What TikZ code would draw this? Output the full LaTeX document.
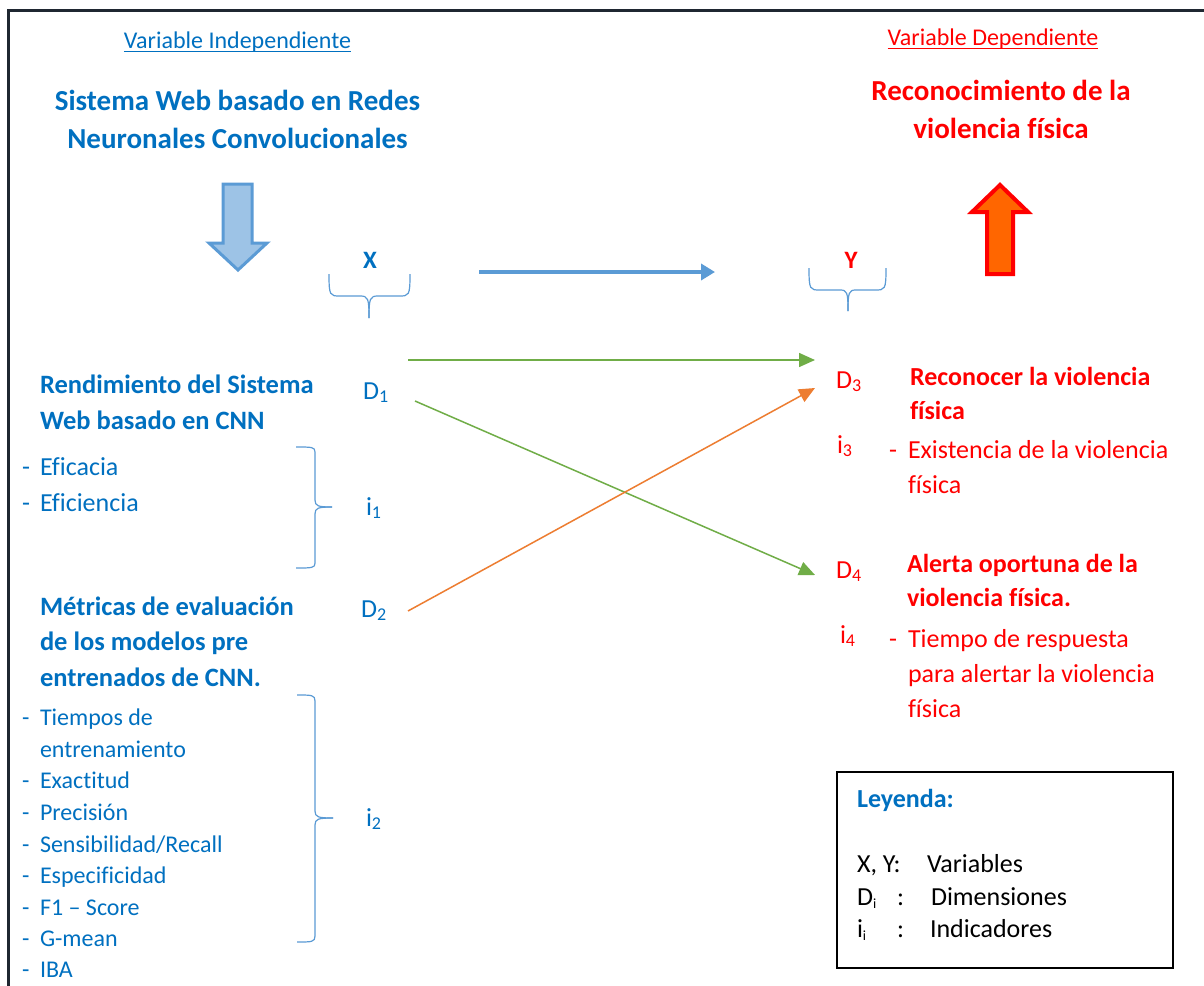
\documentclass[tikz,border=0pt]{standalone}
\usepackage{fontspec}
\setmainfont{Carlito}[Ligatures=NoCommon]
\usetikzlibrary{arrows.meta}
\definecolor{cblue}{HTML}{0070C0}
\definecolor{cred}{HTML}{FF0000}
\definecolor{cgreen}{HTML}{70AD47}
\definecolor{corange}{HTML}{ED7D31}
\definecolor{ablue}{HTML}{5B9BD5}
\definecolor{afill}{HTML}{9DC3E6}
\definecolor{uporange}{HTML}{FF6600}
\definecolor{framecol}{HTML}{1F2731}
\newcommand{\sbx}[1]{\raisebox{-0.15em}{\fontsize{18}{18}\selectfont #1}}
\newcommand{\sbs}[1]{\raisebox{-0.15em}{\fontsize{14}{14}\selectfont #1}}
\begin{document}
\begin{tikzpicture}[x=1pt,y=-1pt,
  every node/.style={inner sep=0pt,outer sep=0pt},
  bt/.style={text=cblue,font=\fontsize{24}{29}\selectfont,anchor=base west},
  bt26/.style={text=cblue,font=\fontsize{26}{31}\selectfont,anchor=base west},
  bh/.style={text=cblue,font=\bfseries\fontsize{26.5}{32}\selectfont,anchor=base west},
  th/.style={font=\bfseries\fontsize{29}{35}\selectfont,anchor=base},
  rt/.style={text=cred,font=\fontsize{26}{31}\selectfont,anchor=base west},
  rh/.style={text=cred,font=\bfseries\fontsize{26}{31}\selectfont,anchor=base west},
  dl/.style={font=\fontsize{26}{31}\selectfont,anchor=base west},
  lg/.style={text=black,font=\fontsize{26}{31}\selectfont,anchor=base west},
  varlab/.style={font=\fontsize{24}{29}\selectfont,anchor=base},
  xy/.style={font=\bfseries\fontsize{25}{30}\selectfont,anchor=base},
  brace/.style={draw=ablue,line width=1.2pt},
  conn/.style={line width=1.5pt,-{Triangle[length=16pt,width=14pt]}},
  bigarrow/.style={draw=ablue,line width=4pt,-{Triangle[length=14pt,width=16pt]}}
]
\useasboundingbox (0,0) rectangle (1204,985);
\clip (0,0) rectangle (1204,985);
\fill[white] (0,0) rectangle (1204,985);
% outer frame
\draw[framecol,line width=3pt] (8,10) rectangle (1240,1020);

% titles
\node[varlab,text=cblue] (vi) at (237.5,48) {Variable Independiente};
\draw[cblue,line width=1.6pt] ([yshift=-3.5pt]vi.base west) -- ([yshift=-3.5pt]vi.base east);
\node[varlab,text=cred] (vd) at (993,45) {Variable Dependiente};
\draw[cred,line width=1.6pt] ([yshift=-3.5pt]vd.base west) -- ([yshift=-3.5pt]vd.base east);

\node[th,text=cblue] (sw1) at (237.5,110) {Sistema Web basado en Redes};
\node[th,text=cblue] (sw2) at (237.5,148) {Neuronales Convolucionales};
\node[th,text=cred] (rv1) at (1001,100) {Reconocimiento de la};
\node[th,text=cred] (rv2) at (1001,138) {violencia física};

% block arrows
\draw[ablue,fill=afill,line width=3pt,line join=miter]
  (223,184) -- (252,184) -- (252,243) -- (267,243) -- (238,270) -- (209,243) -- (223,243) -- cycle;
\draw[cred,fill=uporange,line width=4pt,line join=miter]
  (1000,185) -- (1028,212) -- (1013,212) -- (1013,274) -- (987,274) -- (987,212) -- (972,212) -- cycle;

% X and Y
\node[xy,text=cblue] (X) at (370,268) {X};
\node[xy,text=cred] (Y) at (851,268) {Y};
\draw[brace] (329,274) .. controls (329,296) and (330,296) .. (340,296) -- (360,296)
  .. controls (368,296) and (369,298) .. (369,318);
\draw[brace] (410,274) .. controls (410,296) and (409,296) .. (399,296) -- (378,296)
  .. controls (370,296) and (369,298) .. (369,318);
\draw[brace] (809,268) .. controls (809,290) and (810,290) .. (820,290) -- (840,290)
  .. controls (847,290) and (848,292) .. (848,311);
\draw[brace] (886,268) .. controls (886,290) and (885,290) .. (875,290) -- (856,290)
  .. controls (849,290) and (848,292) .. (848,311);

% horizontal blue arrow
\coordinate (ba1) at (479,272);
\coordinate (ba2) at (715,272);
\draw[bigarrow] (ba1) -- (ba2);

% left block 1
\node[bh] (r1a) at (40,393) {Rendimiento del Sistema};
\node[bh] (r1b) at (40,429) {Web basado en CNN};
\node[bt26] (e1d) at (22,475) {-};
\node[bt26] (e1) at (40,475) {Eficacia};
\node[bt26] (e2d) at (22,511) {-};
\node[bt26] (e2) at (40,511) {Eficiencia};
\draw[brace] (296,447) .. controls (312,447) and (315,447) .. (315,452) -- (315,500)
  .. controls (315,506) and (318,507) .. (332,507);
\draw[brace] (296,568) .. controls (312,568) and (315,568) .. (315,563) -- (315,514)
  .. controls (315,508) and (318,507) .. (332,507);

% left block 2
\node[bh] (m1) at (40,615) {Métricas de evaluación};
\node[bh] (m2) at (40,650) {de los modelos pre};
\node[bh] (m3) at (40,686) {entrenados de CNN.};
\node[bt] (l1d) at (22,725) {-};
\node[bt] (l1) at (40,725) {Tiempos de};
\node[bt] (l1b) at (40,757) {entrenamiento};
\node[bt] (l2d) at (22,788) {-};
\node[bt] (l2) at (40,788) {Exactitud};
\node[bt] (l3d) at (22,820) {-};
\node[bt] (l3) at (40,820) {Precisión};
\node[bt] (l4d) at (22,852) {-};
\node[bt] (l4) at (40,852) {Sensibilidad/Recall};
\node[bt] (l5d) at (22,883) {-};
\node[bt] (l5) at (40,883) {Especificidad};
\node[bt] (l6d) at (22,915) {-};
\node[bt] (l6) at (40,915) {F1 – Score};
\node[bt] (l7d) at (22,946) {-};
\node[bt] (l7) at (40,946) {G-mean};
\node[bt] (l8d) at (22,977) {-};
\node[bt] (l8) at (40,977) {IBA};
\draw[brace] (297,695) .. controls (312,695) and (315,695) .. (315,701) -- (315,811)
  .. controls (315,817) and (318,818) .. (333,818);
\draw[brace] (297,942) .. controls (312,942) and (315,942) .. (315,936) -- (315,825)
  .. controls (315,819) and (318,818) .. (333,818);

% D / i labels left
\node[dl,text=cblue] (D1) at (363,399) {D\sbx{1}};
\node[dl,text=cblue] (i1) at (366,515) {i\sbx{1}};
\node[dl,text=cblue] (D2) at (361,617) {D\sbx{2}};
\node[dl,text=cblue] (i2) at (366,826) {i\sbx{2}};

% D / i labels right
\node[dl,text=cred] (D3) at (836,388) {D\sbx{3}};
\node[dl,text=cred] (i3) at (837,453) {i\sbx{3}};
\node[dl,text=cred] (D4) at (836,578) {D\sbx{4}};
\node[dl,text=cred] (i4) at (840,643) {i\sbx{4}};

% right texts
\node[rh] (d3a) at (910,385) {Reconocer la violencia};
\node[rh] (d3b) at (910,419) {física};
\node[rt] (e3d) at (889,458) {-};
\node[rt] (e3a) at (908,458) {Existencia de la violencia};
\node[rt] (e3b) at (908,493) {física};
\node[rh] (d4a) at (907,572) {Alerta oportuna de la};
\node[rh] (d4b) at (907,606) {violencia física.};
\node[rt] (e4d) at (889,647) {-};
\node[rt] (e4a) at (908,647) {Tiempo de respuesta};
\node[rt] (e4b) at (908,682) {para alertar la violencia};
\node[rt] (e4c) at (908,717) {física};

% connectors
\coordinate (g1s) at (408,360);
\coordinate (g1e) at (815,360);
\coordinate (g2s) at (415,401);
\coordinate (g2e) at (815,575);
\coordinate (o1s) at (408,611);
\coordinate (o1e) at (815,388);
\draw[conn,cgreen] (g1s) -- (g1e);
\draw[conn,cgreen] (g2s) -- (g2e);
\draw[conn,corange] (o1s) -- (o1e);

% legend
\node[draw=black,line width=1.5pt,minimum width=336pt,minimum height=196pt,anchor=north west] (leg) at (837,772) {};
\node[text=cblue,font=\bfseries\fontsize{26}{31}\selectfont,anchor=base west] (lgt) at (857,807) {Leyenda:};
\node[lg] (lx) at (857,872) {X, Y:};
\node[lg] (lxv) at (927,872) {Variables};
\node[lg] (ld) at (857,905) {D\sbs{i}};
\node[lg] (ldc) at (897,905) {:};
\node[lg] (ldv) at (931,905) {Dimensiones};
\node[lg] (li) at (857,937) {i\sbs{i}};
\node[lg] (lic) at (897,937) {:};
\node[lg] (liv) at (930,937) {Indicadores};
\end{tikzpicture}
\end{document}
